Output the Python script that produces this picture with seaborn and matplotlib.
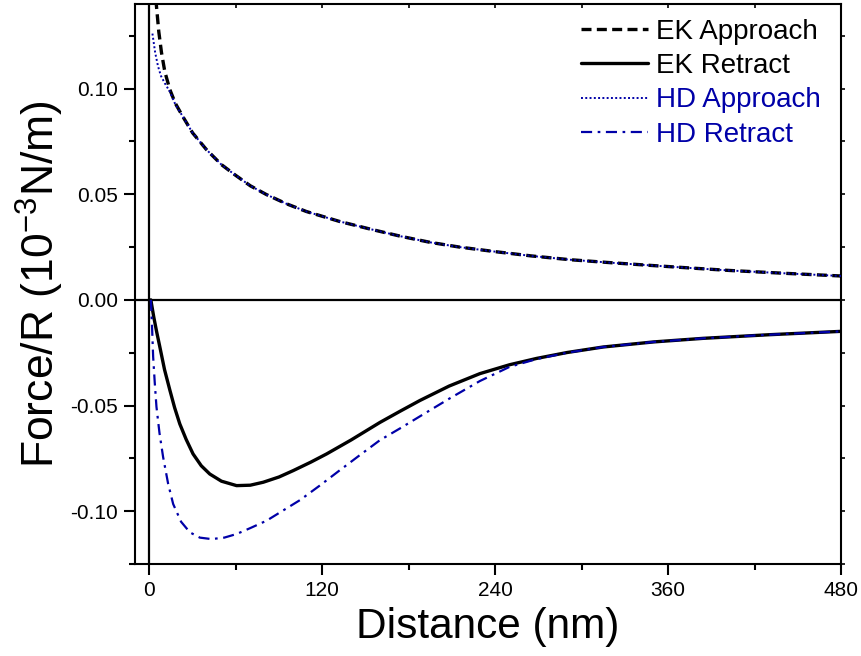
import numpy as np
import pandas as pd
import seaborn as sns
import matplotlib
matplotlib.use("Agg")
import matplotlib.pyplot as plt
from matplotlib.ticker import MultipleLocator, FuncFormatter

# ---------------- data ----------------
ek_app_x = [3, 4.9, 6.5, 8.4, 10.7, 14.2, 18, 23.4, 30, 39.6, 50, 59.3, 70, 81.3, 95, 109, 132,
            155, 175, 195, 215, 239, 265, 292, 320, 348, 375, 403, 440, 480]
ek_app_y = [0.160, 0.139, 0.127, 0.117, 0.108, 0.0995, 0.093, 0.0865, 0.079, 0.0711, 0.064, 0.0592,
            0.054, 0.0498, 0.0455, 0.0418, 0.0371, 0.0332, 0.0300, 0.0272, 0.0250, 0.0229, 0.0208,
            0.0190, 0.0176, 0.0163, 0.0151, 0.0139, 0.0126, 0.0113]

hd_app_x = [2.1, 4, 6, 8, 10.7, 14.2, 18, 23.4, 30, 39.6, 50, 59.3, 70, 81.3, 95, 109, 132,
            155, 175, 195, 215, 239, 265, 292, 320, 348, 375, 403, 440, 480]
hd_app_y = [0.126, 0.117, 0.1105, 0.106, 0.1025, 0.0985, 0.0925, 0.0865, 0.079, 0.0711, 0.064,
            0.0592, 0.054, 0.0498, 0.0455, 0.0418, 0.0371, 0.0332, 0.0300, 0.0272, 0.0250,
            0.0229, 0.0208, 0.0190, 0.0176, 0.0163, 0.0151, 0.0139, 0.0126, 0.0113]

ek_ret_x = [1, 3, 5, 7.2, 10.5, 14.2, 17.5, 21.1, 25.5, 30.3, 36, 41.9, 50, 60.5, 70, 79, 90,
            99.8, 112, 123, 140, 160, 174, 187.8, 208, 229.4, 250, 268.8, 290, 315, 350, 384.5,
            430, 480]
ek_ret_y = [0.0, -0.008, -0.015, -0.0221, -0.033, -0.0427, -0.051, -0.0587, -0.066, -0.0729,
            -0.0785, -0.0824, -0.0858, -0.0879, -0.0877, -0.0863, -0.0838, -0.0808, -0.0768,
            -0.0729, -0.0663, -0.0580, -0.0527, -0.0476, -0.0408, -0.0349, -0.0307, -0.0277,
            -0.0249, -0.0223, -0.0199, -0.0182, -0.0165, -0.0149]

hd_ret_x = [1, 1.8, 2.6, 3.7, 4.9, 7, 9.5, 13, 16.5, 22, 28.1, 35, 43.1, 52, 60.5, 70, 81.3, 92,
            104.4, 118, 132.2, 146, 160, 174, 187.8, 208, 229.4, 250, 268.8, 290, 315, 350,
            384.5, 430, 480]
hd_ret_y = [0.0, -0.012, -0.0269, -0.039, -0.0506, -0.063, -0.0743, -0.087, -0.0966, -0.105,
            -0.110, -0.1125, -0.1132, -0.1125, -0.1108, -0.108, -0.1045, -0.1000, -0.0948,
            -0.0880, -0.0806, -0.0735, -0.0664, -0.0608, -0.0551, -0.0468, -0.0384, -0.0317,
            -0.0280, -0.0250, -0.0223, -0.0199, -0.0182, -0.0165, -0.0149]

series_labels = ["EK Approach", "EK Retract", "HD Approach", "HD Retract"]
x_ticks = [0, 120, 240, 360, 480]
y_ticks = [-0.10, -0.05, 0.00, 0.05, 0.10]

# ---------------- style ----------------
sns.set_theme(style="white")
plt.rcParams["font.family"] = ["Liberation Sans", "DejaVu Sans"]
plt.rcParams["mathtext.default"] = "regular"
plt.rcParams["axes.unicode_minus"] = False
plt.rcParams["text.color"] = "black"
plt.rcParams["axes.labelcolor"] = "black"

BLUE = "#0000A8"

fig = plt.figure(figsize=(8.62, 6.56), dpi=100)
ax = fig.add_axes([0.1566, 0.1402, 0.8190, 0.8537])

ax.axhline(0, color="black", lw=1.6, zorder=1)
ax.axvline(0, color="black", lw=1.6, zorder=1)

df_ea = pd.DataFrame({"x": ek_app_x, "y": ek_app_y})
df_er = pd.DataFrame({"x": ek_ret_x, "y": ek_ret_y})
df_ha = pd.DataFrame({"x": hd_app_x, "y": hd_app_y})
df_hr = pd.DataFrame({"x": hd_ret_x, "y": hd_ret_y})

sns.lineplot(data=df_ea, x="x", y="y", ax=ax, color="black", lw=2.4, label=series_labels[0])
sns.lineplot(data=df_er, x="x", y="y", ax=ax, color="black", lw=2.4, label=series_labels[1])
sns.lineplot(data=df_ha, x="x", y="y", ax=ax, color=BLUE, lw=1.4, label=series_labels[2])
sns.lineplot(data=df_hr, x="x", y="y", ax=ax, color=BLUE, lw=1.6, label=series_labels[3])

lines = ax.get_lines()[2:]
lines[0].set_dashes([3.0, 1.6])
lines[0].set_zorder(3)
lines[1].set_zorder(3)
lines[2].set_dashes([1.0, 1.2])
lines[2].set_zorder(4)
lines[3].set_dashes([5.0, 2.5, 1.2, 2.5])
lines[3].set_zorder(4)

ax.set_xlim(-10, 480)
ax.set_ylim(-0.125, 0.14)
ax.set_xticks(x_ticks)
ax.set_yticks(y_ticks)
ax.xaxis.set_minor_locator(MultipleLocator(60))
ax.yaxis.set_minor_locator(MultipleLocator(0.025))
ax.yaxis.set_major_formatter(FuncFormatter(lambda v, p: f"{v:.2f}".replace("-0.00", "0.00")))

ax.tick_params(axis="both", which="major", direction="out", length=8, width=1.5,
               labelsize=15, pad=4, colors="black", left=True, bottom=True)
ax.tick_params(axis="both", which="minor", direction="out", length=4.5, width=1.5,
               left=True, bottom=True, colors="black")

for s in ax.spines.values():
    s.set_visible(True)
    s.set_color("black")
    s.set_linewidth(1.5)

# small ticks on top (inward) and right (outward)
secx = ax.secondary_xaxis("top")
secx.set_xticks(x_ticks)
secx.xaxis.set_minor_locator(MultipleLocator(60))
secx.tick_params(which="both", direction="in", length=3, width=1.2, labeltop=False, colors="black")
secx.spines["top"].set_visible(False)
secy = ax.secondary_yaxis("right")
secy.set_yticks(y_ticks)
secy.yaxis.set_minor_locator(MultipleLocator(0.025))
secy.tick_params(which="both", direction="out", length=3, width=1.2, labelright=False, colors="black")
secy.spines["right"].set_visible(False)

ax.set_xlabel("Distance (nm)", fontsize=30.5, labelpad=5, color="black")
ax.set_ylabel(r"Force/R (10$^{-3}$N/m)", fontsize=32, labelpad=3, color="black")

leg = ax.legend(loc="upper right", bbox_to_anchor=(0.997, 1.006), frameon=False,
                fontsize=20, handlelength=2.4, handletextpad=0.3, labelspacing=0.3,
                borderaxespad=0.25)
for txt, c in zip(leg.get_texts(), ["black", "black", BLUE, BLUE]):
    txt.set_color(c)

fig.savefig("out.png", dpi=100)
